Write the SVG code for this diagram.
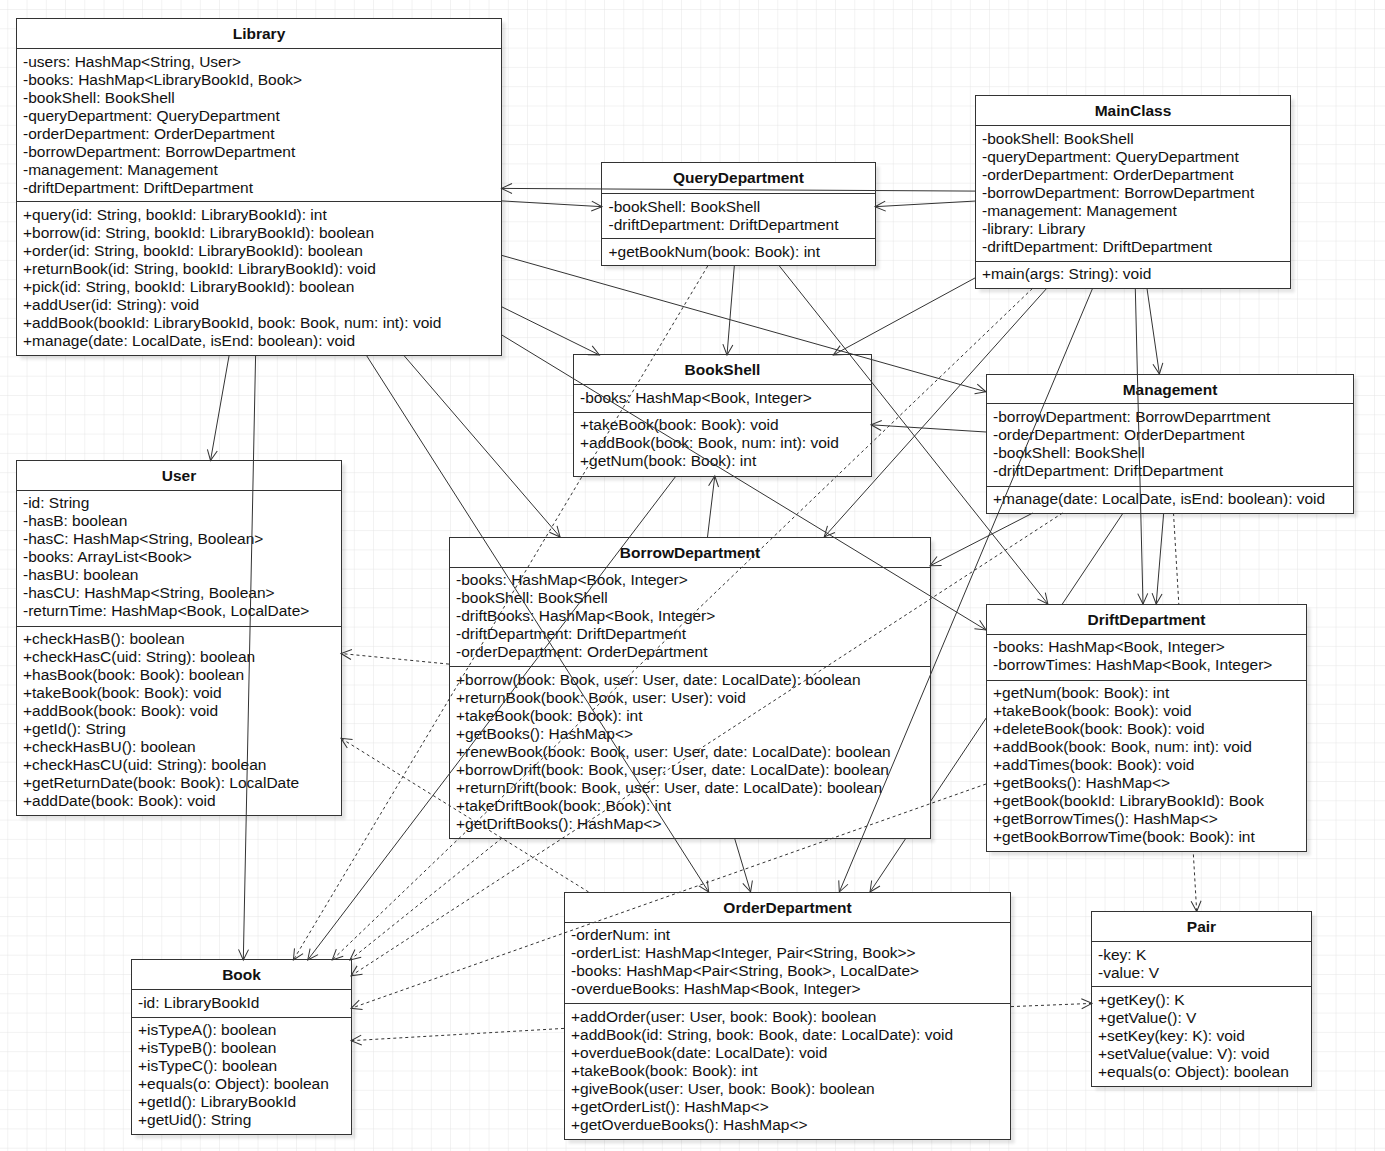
<svg xmlns="http://www.w3.org/2000/svg" width="1385" height="1151" viewBox="0 0 1385 1151">
<defs>
<pattern id="grid" x="7.3" y="9" width="19.25" height="19.3" patternUnits="userSpaceOnUse">
<path d="M0,0 V19.3 M0,0 H19.25" fill="none" stroke="#e5e5e5" stroke-width="1"/>
</pattern>
<filter id="blur" x="-5%" y="-5%" width="110%" height="110%"><feGaussianBlur stdDeviation="1.6"/></filter>
<marker id="arr" viewBox="-12 -7 14 14" refX="0" refY="0" markerWidth="14" markerHeight="14" markerUnits="userSpaceOnUse" orient="auto">
<path d="M-10.5,-5 L0,0 L-10.5,5" fill="none" stroke="#333" stroke-width="1" stroke-dasharray="none"/>
</marker>
</defs>
<style>
.box{fill:#fff;stroke:#333;stroke-width:1}
.sep{stroke:#333;stroke-width:1}
.sh{fill:#000;opacity:0.1;filter:url(#blur)}
.t{font-family:"Liberation Sans",Arial,Helvetica,sans-serif;font-size:15.5px;fill:#111}
.h{font-family:"Liberation Sans",Arial,Helvetica,sans-serif;font-size:15.5px;font-weight:bold;fill:#111;text-anchor:middle}
.e{stroke:#333;stroke-width:1;fill:none;marker-end:url(#arr)}
.d{stroke:#333;stroke-width:1;fill:none;stroke-dasharray:3 3;marker-end:url(#arr)}
</style>
<rect x="0" y="0" width="1385" height="1151" fill="#fff"/>
<rect x="0" y="0" width="1385" height="1151" fill="url(#grid)"/>

<g id="shadows">
<rect class="sh" x="20.5" y="22.5" width="485" height="337"/>
<rect class="sh" x="605.5" y="166.5" width="274" height="103"/>
<rect class="sh" x="979.5" y="99.5" width="315" height="193"/>
<rect class="sh" x="577.5" y="358.5" width="298" height="122"/>
<rect class="sh" x="990.5" y="378.5" width="367" height="139"/>
<rect class="sh" x="990.5" y="608.5" width="320" height="247"/>
<rect class="sh" x="453.5" y="541.5" width="481" height="301"/>
<rect class="sh" x="20.5" y="464.5" width="325" height="355"/>
<rect class="sh" x="135.5" y="963.5" width="220" height="175"/>
<rect class="sh" x="568.5" y="896.5" width="446" height="247"/>
<rect class="sh" x="1095.5" y="915.5" width="220" height="175"/>
</g>

<g id="connectors-behind">
<line class="e" x1="1123.1" y1="513" x2="870" y2="892"/>
<line class="d" x1="1173.5" y1="513" x2="1196.7" y2="911.5"/>
</g>

<g id="Library">
<rect class="box" x="16.5" y="18.5" width="485" height="337"/>
<line class="sep" x1="16.5" y1="48.5" x2="501.5" y2="48.5"/>
<line class="sep" x1="16.5" y1="201.5" x2="501.5" y2="201.5"/>
<text class="h" x="259" y="39">Library</text>
<text class="t" x="23" y="66.5">-users: HashMap&lt;String, User&gt;</text>
<text class="t" x="23" y="84.5">-books: HashMap&lt;LibraryBookId, Book&gt;</text>
<text class="t" x="23" y="102.5">-bookShell: BookShell</text>
<text class="t" x="23" y="120.5">-queryDepartment: QueryDepartment</text>
<text class="t" x="23" y="138.5">-orderDepartment: OrderDepartment</text>
<text class="t" x="23" y="156.5">-borrowDepartment: BorrowDepartment</text>
<text class="t" x="23" y="174.5">-management: Management</text>
<text class="t" x="23" y="192.5">-driftDepartment: DriftDepartment</text>
<text class="t" x="23" y="219.5">+query(id: String, bookId: LibraryBookId): int</text>
<text class="t" x="23" y="237.5">+borrow(id: String, bookId: LibraryBookId): boolean</text>
<text class="t" x="23" y="255.5">+order(id: String, bookId: LibraryBookId): boolean</text>
<text class="t" x="23" y="273.5">+returnBook(id: String, bookId: LibraryBookId): void</text>
<text class="t" x="23" y="291.5">+pick(id: String, bookId: LibraryBookId): boolean</text>
<text class="t" x="23" y="309.5">+addUser(id: String): void</text>
<text class="t" x="23" y="327.5">+addBook(bookId: LibraryBookId, book: Book, num: int): void</text>
<text class="t" x="23" y="345.5">+manage(date: LocalDate, isEnd: boolean): void</text>
</g>

<g id="QueryDepartment">
<rect class="box" x="601.5" y="162.5" width="274" height="103"/>
<line class="sep" x1="601.5" y1="193.5" x2="875.5" y2="193.5"/>
<line class="sep" x1="601.5" y1="238.5" x2="875.5" y2="238.5"/>
<text class="h" x="738.5" y="183">QueryDepartment</text>
<text class="t" x="608.5" y="211.5">-bookShell: BookShell</text>
<text class="t" x="608.5" y="229.5">-driftDepartment: DriftDepartment</text>
<text class="t" x="608.5" y="256.5">+getBookNum(book: Book): int</text>
</g>

<g id="MainClass">
<rect class="box" x="975.5" y="95.5" width="315" height="193"/>
<line class="sep" x1="975.5" y1="125.5" x2="1290.5" y2="125.5"/>
<line class="sep" x1="975.5" y1="261.5" x2="1290.5" y2="261.5"/>
<text class="h" x="1133" y="116">MainClass</text>
<text class="t" x="982" y="143.5">-bookShell: BookShell</text>
<text class="t" x="982" y="161.5">-queryDepartment: QueryDepartment</text>
<text class="t" x="982" y="179.5">-orderDepartment: OrderDepartment</text>
<text class="t" x="982" y="197.5">-borrowDepartment: BorrowDepartment</text>
<text class="t" x="982" y="215.5">-management: Management</text>
<text class="t" x="982" y="233.5">-library: Library</text>
<text class="t" x="982" y="251.5">-driftDepartment: DriftDepartment</text>
<text class="t" x="982" y="278.5">+main(args: String): void</text>
</g>

<g id="BookShell">
<rect class="box" x="573.5" y="354.5" width="298" height="122"/>
<line class="sep" x1="573.5" y1="384.5" x2="871.5" y2="384.5"/>
<line class="sep" x1="573.5" y1="412.5" x2="871.5" y2="412.5"/>
<text class="h" x="722.5" y="375">BookShell</text>
<text class="t" x="580" y="402.5">-books: HashMap&lt;Book, Integer&gt;</text>
<text class="t" x="580" y="429.5">+takeBook(book: Book): void</text>
<text class="t" x="580" y="447.5">+addBook(book: Book, num: int): void</text>
<text class="t" x="580" y="465.5">+getNum(book: Book): int</text>
</g>

<g id="Management">
<rect class="box" x="986.5" y="374.5" width="367" height="139"/>
<line class="sep" x1="986.5" y1="403.5" x2="1353.5" y2="403.5"/>
<line class="sep" x1="986.5" y1="486.5" x2="1353.5" y2="486.5"/>
<text class="h" x="1170" y="394.5">Management</text>
<text class="t" x="993" y="421.5">-borrowDepartment: BorrowDeparrtment</text>
<text class="t" x="993" y="439.5">-orderDepartment: OrderDepartment</text>
<text class="t" x="993" y="457.5">-bookShell: BookShell</text>
<text class="t" x="993" y="475.5">-driftDepartment: DriftDepartment</text>
<text class="t" x="993" y="503.5">+manage(date: LocalDate, isEnd: boolean): void</text>
</g>

<g id="DriftDepartment">
<rect class="box" x="986.5" y="604.5" width="320" height="247"/>
<line class="sep" x1="986.5" y1="634.5" x2="1306.5" y2="634.5"/>
<line class="sep" x1="986.5" y1="680.5" x2="1306.5" y2="680.5"/>
<text class="h" x="1146.5" y="625">DriftDepartment</text>
<text class="t" x="993" y="652">-books: HashMap&lt;Book, Integer&gt;</text>
<text class="t" x="993" y="670">-borrowTimes: HashMap&lt;Book, Integer&gt;</text>
<text class="t" x="993" y="698">+getNum(book: Book): int</text>
<text class="t" x="993" y="716">+takeBook(book: Book): void</text>
<text class="t" x="993" y="734">+deleteBook(book: Book): void</text>
<text class="t" x="993" y="752">+addBook(book: Book, num: int): void</text>
<text class="t" x="993" y="770">+addTimes(book: Book): void</text>
<text class="t" x="993" y="788">+getBooks(): HashMap&lt;&gt;</text>
<text class="t" x="993" y="806">+getBook(bookId: LibraryBookId): Book</text>
<text class="t" x="993" y="824">+getBorrowTimes(): HashMap&lt;&gt;</text>
<text class="t" x="993" y="842">+getBookBorrowTime(book: Book): int</text>
</g>

<g id="BorrowDepartment">
<rect class="box" x="449.5" y="537.5" width="481" height="301"/>
<line class="sep" x1="449.5" y1="567.5" x2="930.5" y2="567.5"/>
<line class="sep" x1="449.5" y1="666.5" x2="930.5" y2="666.5"/>
<text class="h" x="690" y="558">BorrowDepartment</text>
<text class="t" x="456" y="585">-books: HashMap&lt;Book, Integer&gt;</text>
<text class="t" x="456" y="603">-bookShell: BookShell</text>
<text class="t" x="456" y="621">-driftBooks: HashMap&lt;Book, Integer&gt;</text>
<text class="t" x="456" y="639">-driftDepartment: DriftDepartment</text>
<text class="t" x="456" y="657">-orderDepartment: OrderDepartment</text>
<text class="t" x="456" y="684.5">+borrow(book: Book, user: User, date: LocalDate): boolean</text>
<text class="t" x="456" y="702.5">+returnBook(book: Book, user: User): void</text>
<text class="t" x="456" y="720.5">+takeBook(book: Book): int</text>
<text class="t" x="456" y="738.5">+getBooks(): HashMap&lt;&gt;</text>
<text class="t" x="456" y="756.5">+renewBook(book: Book, user: User, date: LocalDate): boolean</text>
<text class="t" x="456" y="774.5">+borrowDrift(book: Book, user: User, date: LocalDate): boolean</text>
<text class="t" x="456" y="792.5">+returnDrift(book: Book, user: User, date: LocalDate): boolean</text>
<text class="t" x="456" y="810.5">+takeDriftBook(book: Book): int</text>
<text class="t" x="456" y="828.5">+getDriftBooks(): HashMap&lt;&gt;</text>
</g>

<g id="User">
<rect class="box" x="16.5" y="460.5" width="325" height="355"/>
<line class="sep" x1="16.5" y1="490.5" x2="341.5" y2="490.5"/>
<line class="sep" x1="16.5" y1="626.5" x2="341.5" y2="626.5"/>
<text class="h" x="179" y="481">User</text>
<text class="t" x="23" y="508">-id: String</text>
<text class="t" x="23" y="526">-hasB: boolean</text>
<text class="t" x="23" y="544">-hasC: HashMap&lt;String, Boolean&gt;</text>
<text class="t" x="23" y="562">-books: ArrayList&lt;Book&gt;</text>
<text class="t" x="23" y="580">-hasBU: boolean</text>
<text class="t" x="23" y="598">-hasCU: HashMap&lt;String, Boolean&gt;</text>
<text class="t" x="23" y="616">-returnTime: HashMap&lt;Book, LocalDate&gt;</text>
<text class="t" x="23" y="644">+checkHasB(): boolean</text>
<text class="t" x="23" y="662">+checkHasC(uid: String): boolean</text>
<text class="t" x="23" y="680">+hasBook(book: Book): boolean</text>
<text class="t" x="23" y="698">+takeBook(book: Book): void</text>
<text class="t" x="23" y="716">+addBook(book: Book): void</text>
<text class="t" x="23" y="734">+getId(): String</text>
<text class="t" x="23" y="752">+checkHasBU(): boolean</text>
<text class="t" x="23" y="770">+checkHasCU(uid: String): boolean</text>
<text class="t" x="23" y="788">+getReturnDate(book: Book): LocalDate</text>
<text class="t" x="23" y="806">+addDate(book: Book): void</text>
</g>

<g id="Book">
<rect class="box" x="131.5" y="959.5" width="220" height="175"/>
<line class="sep" x1="131.5" y1="989.5" x2="351.5" y2="989.5"/>
<line class="sep" x1="131.5" y1="1017.5" x2="351.5" y2="1017.5"/>
<text class="h" x="241.5" y="980">Book</text>
<text class="t" x="138" y="1007.5">-id: LibraryBookId</text>
<text class="t" x="138" y="1034.5">+isTypeA(): boolean</text>
<text class="t" x="138" y="1052.5">+isTypeB(): boolean</text>
<text class="t" x="138" y="1070.5">+isTypeC(): boolean</text>
<text class="t" x="138" y="1088.5">+equals(o: Object): boolean</text>
<text class="t" x="138" y="1106.5">+getId(): LibraryBookId</text>
<text class="t" x="138" y="1124.5">+getUid(): String</text>
</g>

<g id="OrderDepartment">
<rect class="box" x="564.5" y="892.5" width="446" height="247"/>
<line class="sep" x1="564.5" y1="922.5" x2="1010.5" y2="922.5"/>
<line class="sep" x1="564.5" y1="1003.5" x2="1010.5" y2="1003.5"/>
<text class="h" x="787.5" y="913">OrderDepartment</text>
<text class="t" x="571" y="940">-orderNum: int</text>
<text class="t" x="571" y="958">-orderList: HashMap&lt;Integer, Pair&lt;String, Book&gt;&gt;</text>
<text class="t" x="571" y="976">-books: HashMap&lt;Pair&lt;String, Book&gt;, LocalDate&gt;</text>
<text class="t" x="571" y="994">-overdueBooks: HashMap&lt;Book, Integer&gt;</text>
<text class="t" x="571" y="1021.5">+addOrder(user: User, book: Book): boolean</text>
<text class="t" x="571" y="1039.5">+addBook(id: String, book: Book, date: LocalDate): void</text>
<text class="t" x="571" y="1057.5">+overdueBook(date: LocalDate): void</text>
<text class="t" x="571" y="1075.5">+takeBook(book: Book): int</text>
<text class="t" x="571" y="1093.5">+giveBook(user: User, book: Book): boolean</text>
<text class="t" x="571" y="1111.5">+getOrderList(): HashMap&lt;&gt;</text>
<text class="t" x="571" y="1129.5">+getOverdueBooks(): HashMap&lt;&gt;</text>
</g>

<g id="Pair">
<rect class="box" x="1091.5" y="911.5" width="220" height="175"/>
<line class="sep" x1="1091.5" y1="941.5" x2="1311.5" y2="941.5"/>
<line class="sep" x1="1091.5" y1="986.5" x2="1311.5" y2="986.5"/>
<text class="h" x="1201.5" y="932">Pair</text>
<text class="t" x="1098" y="959.5">-key: K</text>
<text class="t" x="1098" y="977.5">-value: V</text>
<text class="t" x="1098" y="1004.5">+getKey(): K</text>
<text class="t" x="1098" y="1022.5">+getValue(): V</text>
<text class="t" x="1098" y="1040.5">+setKey(key: K): void</text>
<text class="t" x="1098" y="1058.5">+setValue(value: V): void</text>
<text class="t" x="1098" y="1076.5">+equals(o: Object): boolean</text>
</g>

<g id="connectors">
<line class="e" x1="976" y1="191.1" x2="501.5" y2="188.4"/>
<line class="e" x1="501.5" y1="200.9" x2="602" y2="206.7"/>
<line class="e" x1="976" y1="201" x2="875" y2="206.7"/>
<line class="e" x1="734.3" y1="266" x2="727" y2="355"/>
<line class="e" x1="779.4" y1="266" x2="1047.9" y2="604"/>
<line class="d" x1="707.7" y1="266" x2="293.4" y2="960"/>
<line class="e" x1="501.5" y1="306.7" x2="599.4" y2="355"/>
<line class="e" x1="501.5" y1="255.3" x2="986" y2="391.8"/>
<line class="e" x1="403.5" y1="355" x2="560.1" y2="537"/>
<line class="e" x1="366.2" y1="355" x2="708.7" y2="892"/>
<line class="e" x1="501.5" y1="334.8" x2="986" y2="630"/>
<line class="e" x1="229.2" y1="355" x2="210.5" y2="460.5"/>
<line class="e" x1="255.6" y1="355" x2="243.3" y2="960"/>
<line class="e" x1="976" y1="277.4" x2="833.3" y2="355"/>
<line class="e" x1="1046.6" y1="288.5" x2="824.2" y2="537"/>
<line class="e" x1="1092.5" y1="288.5" x2="839.3" y2="892"/>
<line class="e" x1="1147" y1="288.5" x2="1159.4" y2="374"/>
<line class="e" x1="1135.3" y1="288.5" x2="1143" y2="604"/>
<line class="d" x1="1032.4" y1="288.5" x2="332.2" y2="960"/>
<line class="e" x1="986" y1="432" x2="871" y2="424.8"/>
<line class="e" x1="1032.8" y1="513" x2="930" y2="565.8"/>
<line class="e" x1="1163.7" y1="513" x2="1156.2" y2="604"/>
<line class="d" x1="1062.6" y1="513" x2="351" y2="975.8"/>
<line class="e" x1="707.5" y1="537" x2="714.8" y2="476"/>
<line class="e" x1="734.5" y1="838" x2="750.6" y2="892"/>
<line class="d" x1="449" y1="664.1" x2="341" y2="653.5"/>
<line class="d" x1="502" y1="838" x2="349.9" y2="960"/>
<line class="e" x1="676" y1="476" x2="307.7" y2="960"/>
<line class="d" x1="986" y1="784" x2="351" y2="1008.3"/>
<line class="d" x1="564" y1="1028.4" x2="351" y2="1040.7"/>
<line class="d" x1="588.6" y1="892" x2="341" y2="738.3"/>
<line class="d" x1="1011" y1="1006.6" x2="1092" y2="1003.4"/>
</g>
</svg>
